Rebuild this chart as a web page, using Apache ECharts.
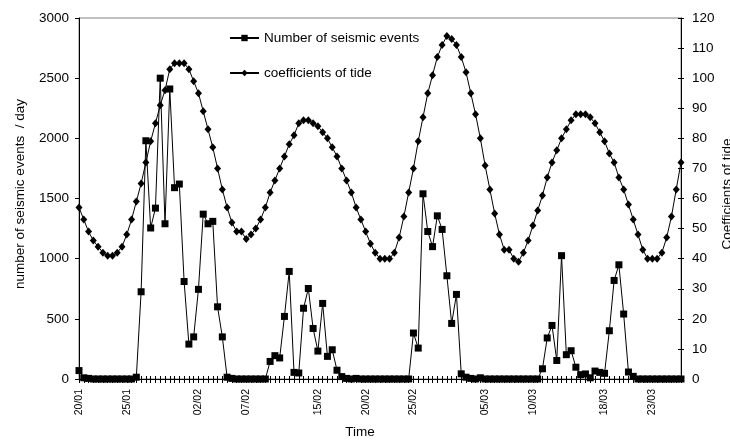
<!DOCTYPE html>
<html>
<head>
<meta charset="utf-8">
<script src="https://cdn.jsdelivr.net/npm/echarts@6/dist/echarts.min.js"></script>
<style>
  html, body { margin: 0; padding: 0; background: #fff; }
  #chart { width: 730px; height: 441px; }
</style>
</head>
<body>
<div id="chart"></div>
<script>
// Daily seismic event counts and tide coefficients, one value per high tide
const seismicEvents = [
  70, 10, 5, 0, 0, 0, 0, 0, 0, 0,
  0, 0, 15, 725, 1980, 1255, 1420, 2500, 1290, 2410,
  1590, 1620, 810, 290, 350, 745, 1370, 1290, 1310, 600,
  350, 15, 5, 0, 0, 0, 0, 0, 0, 0,
  146, 194, 175, 520, 894, 55, 50, 588, 752, 420,
  232, 628, 188, 243, 73, 20, 5, 0, 5, 0,
  0, 0, 0, 0, 0, 0, 0, 0, 0, 0,
  382, 257, 1539, 1226, 1100, 1356, 1243, 858, 462, 703,
  43, 15, 5, 0, 10, 0, 0, 0, 0, 0,
  0, 0, 0, 0, 0, 0, 0, 85, 341, 445,
  154, 1025, 202, 235, 98, 36, 42, 10, 66, 55,
  47, 401, 819, 949, 540, 58, 22, 0, 0, 0,
  0, 0, 0, 0, 0, 0, 0
];

const tideCoefficients = [
  57, 53, 49, 46, 44, 42, 41, 41, 42, 44,
  48, 53, 59, 65, 72, 79, 85, 91, 96, 103,
  105, 105, 105, 103, 99, 95, 89, 83, 77, 70,
  63, 57, 52, 49, 49, 46.5, 48, 50, 53, 57,
  62, 66, 70, 74, 78, 81, 85, 86, 86, 85,
  84, 82, 80, 77, 74, 70, 66, 62, 57, 53,
  49, 45, 42, 40, 40, 40, 42, 47, 54, 62,
  70, 79, 87, 95, 101, 107, 111, 114, 113, 111,
  107, 102, 95, 88, 80, 71, 63, 55, 48, 43,
  43, 40, 39, 42, 46, 51, 56, 61, 67, 72,
  76, 80, 83, 86, 88, 88, 88, 87, 85, 82,
  79, 75, 72, 67, 63, 58, 53, 48, 43, 40,
  40, 40, 42, 47, 54, 63, 72
];

// Dates written under the time axis and the tide they fall on
const dateLabels = ['20/01', '25/01', '02/02', '07/02', '15/02', '20/02', '25/02', '05/03', '10/03', '18/03', '23/03'];
const dateLabelIndex = [0, 10, 25, 35, 50, 60, 70, 85, 95, 110, 120];

const leftTicks = { min: 0, max: 3000, interval: 500 };
const rightTicks = { min: 0, max: 120, interval: 10 };

const categories = seismicEvents.map(() => '');
dateLabelIndex.forEach((idx, k) => { categories[idx] = dateLabels[k]; });

const FONT = '"Liberation Sans", Arial, sans-serif';
const black = '#000';
const plain = v => String(v);

const chart = echarts.init(document.getElementById('chart'), null, { renderer: 'canvas' });

chart.setOption({
  animation: false,
  backgroundColor: '#fff',
  textStyle: { fontFamily: FONT, color: black },
  grid: {
    left: 79, right: 49, top: 18, bottom: 62,
    show: true, borderColor: '#808080', borderWidth: 1, backgroundColor: 'transparent'
  },
  legend: {
    orient: 'vertical',
    left: 224, top: 26,
    itemWidth: 29, itemHeight: 8, itemGap: 21,
    textStyle: { fontFamily: FONT, fontSize: 13.5, color: black },
    data: ['Number of seismic events', 'coefficients of tide']
  },
  xAxis: [
    {
      type: 'category', data: categories, boundaryGap: false, position: 'bottom',
      axisLine: { lineStyle: { color: black, width: 1 } },
      axisTick: { show: true, interval: 0, length: 4, inside: false, lineStyle: { color: black } },
      axisLabel: { interval: 0, rotate: 90, margin: 10, fontSize: 10.5, fontFamily: FONT, color: black },
      splitLine: { show: false }
    },
    {
      type: 'category', data: categories, boundaryGap: false, position: 'bottom', offset: 0,
      axisLine: { show: false },
      axisTick: { show: true, interval: 0, length: 3, inside: true, lineStyle: { color: black } },
      axisLabel: { show: false },
      splitLine: { show: false }
    }
  ],
  yAxis: [
    {
      type: 'value', position: 'left', min: leftTicks.min, max: leftTicks.max, interval: leftTicks.interval,
      axisLine: { show: true, lineStyle: { color: black } },
      axisTick: { show: true, length: 4, lineStyle: { color: black } },
      axisLabel: { margin: 10, fontSize: 13.5, fontFamily: FONT, color: black, formatter: plain },
      splitLine: { show: false }
    },
    {
      type: 'value', position: 'right', min: rightTicks.min, max: rightTicks.max, interval: rightTicks.interval,
      axisLine: { show: true, lineStyle: { color: black } },
      axisTick: { show: true, length: 3, lineStyle: { color: black } },
      axisLabel: { margin: 11, fontSize: 13.5, fontFamily: FONT, color: black, formatter: plain },
      splitLine: { show: false }
    },
    {
      type: 'value', position: 'right', offset: 0, min: rightTicks.min, max: rightTicks.max, interval: rightTicks.interval,
      axisLine: { show: false },
      axisTick: { show: true, inside: true, length: 3, lineStyle: { color: black } },
      axisLabel: { show: false },
      splitLine: { show: false }
    }
  ],
  series: [
    {
      name: 'Number of seismic events', type: 'line', xAxisIndex: 0, yAxisIndex: 0,
      data: seismicEvents,
      symbol: 'rect', symbolSize: 7, showAllSymbol: true,
      lineStyle: { color: black, width: 1 },
      itemStyle: { color: black, borderWidth: 0 },
      z: 3
    },
    {
      name: 'coefficients of tide', type: 'line', xAxisIndex: 0, yAxisIndex: 1,
      data: tideCoefficients,
      symbol: 'diamond', symbolSize: [7, 8], showAllSymbol: true,
      lineStyle: { color: black, width: 1 },
      itemStyle: { color: black, borderWidth: 0 },
      z: 2
    }
  ],
  graphic: [
    {
      type: 'text', x: 20, y: 194, rotation: Math.PI / 2,
      style: { text: 'number of seismic events  / day', font: '13.5px ' + FONT, fill: black,
               textAlign: 'center', textVerticalAlign: 'middle', align: 'center', verticalAlign: 'middle' }
    },
    {
      type: 'text', x: 727, y: 194, rotation: Math.PI / 2,
      style: { text: 'Coefficients of tide', font: '13.5px ' + FONT, fill: black,
               textAlign: 'center', textVerticalAlign: 'middle', align: 'center', verticalAlign: 'middle' }
    },
    {
      type: 'text', x: 360, y: 432,
      style: { text: 'Time', font: '13.5px ' + FONT, fill: black,
               textAlign: 'center', textVerticalAlign: 'middle', align: 'center', verticalAlign: 'middle' }
    }
  ]
});
</script>
</body>
</html>
